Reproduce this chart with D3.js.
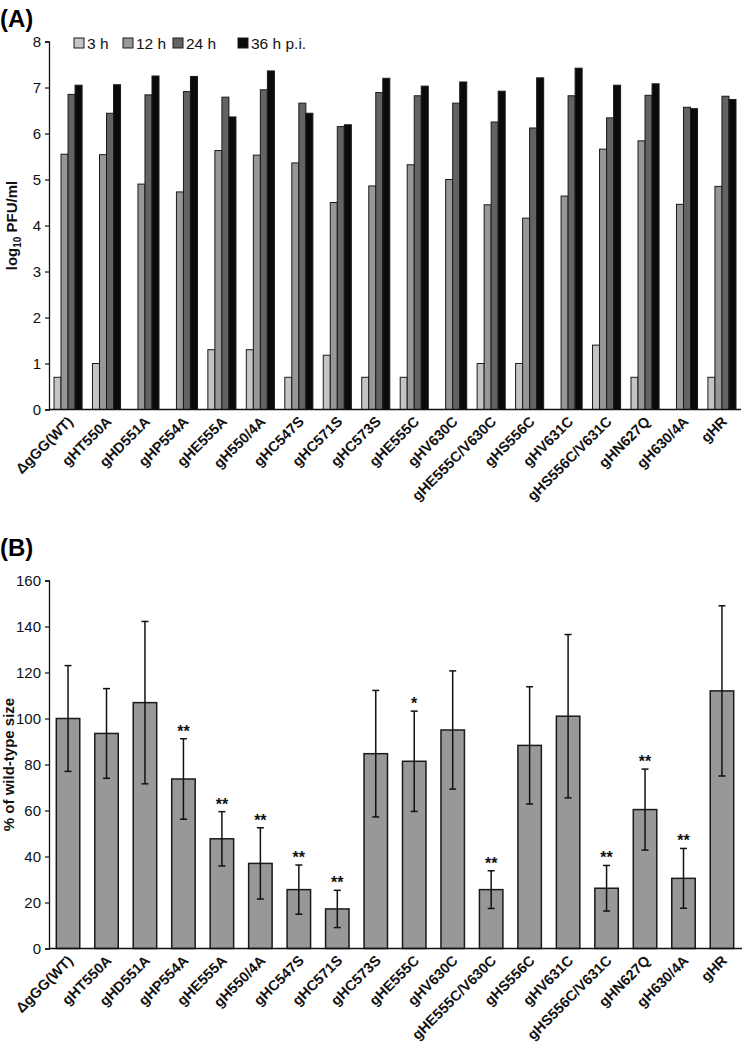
<!DOCTYPE html>
<html>
<head>
<meta charset="utf-8">
<script src="https://cdn.jsdelivr.net/npm/d3@7"></script>
<style>
  html, body { margin: 0; padding: 0; background: #fff; }
  svg { display: block; font-family: "Liberation Sans", Arial, sans-serif; }
</style>
</head>
<body>
<svg id="chart" width="742" height="1045"></svg>
<script>
// ---------- DATA ----------
const categories = ["ΔgGG(WT)","gHT550A","gHD551A","gHP554A","gHE555A","gH550/4A","gHC547S","gHC571S","gHC573S","gHE555C","gHV630C","gHE555C/V630C","gHS556C","gHV631C","gHS556C/V631C","gHN627Q","gH630/4A","gHR"];
const seriesNames = ["3 h","12 h","24 h","36 h p.i."];
const pfu3h  = [0.7,1.0,null,null,1.3,1.3,0.7,1.18,0.7,0.7,null,1.0,1.0,null,1.4,0.7,null,0.7];
const pfu12h = [5.55,5.54,4.9,4.73,5.63,5.53,5.36,4.5,4.86,5.32,5.0,4.45,4.16,4.64,5.66,5.84,4.46,4.85];
const pfu24h = [6.85,6.44,6.84,6.91,6.79,6.95,6.66,6.15,6.89,6.82,6.66,6.25,6.12,6.82,6.34,6.83,6.57,6.81];
const pfu36h = [7.05,7.06,7.25,7.24,6.36,7.36,6.44,6.19,7.2,7.03,7.12,6.92,7.21,7.42,7.05,7.08,6.54,6.74];
const plaqueSize = [100,93.5,106.9,73.7,47.7,37,25.6,17.2,84.7,81.4,95,25.6,88.3,101,26.2,60.4,30.5,112];
const plaqueErr  = [23,19.5,35.3,17.5,11.8,15.5,10.7,8.1,27.5,21.8,25.7,8.2,25.5,35.5,9.9,17.6,13,37];
const significance = ["","","","**","**","**","**","**","","*","","**","","","**","**","**",""];
const ticksA = [0,1,2,3,4,5,6,7,8];
const ticksB = [0,20,40,60,80,100,120,140,160];

const seriesColors = ["#c4c4c4","#979797","#636363","#0a0a0a"];
const FONT = "Liberation Sans, Arial, sans-serif";

const svg = d3.select("#chart");

// ---------- PANEL A ----------
const seriesData = [pfu3h, pfu12h, pfu24h, pfu36h];
const xA = d3.scaleBand().domain(categories).range([49, 741]).paddingInner(0.27).paddingOuter(0.13);
const xSub = d3.scaleBand().domain(seriesNames).range([0, xA.bandwidth()]);
const yA = d3.scaleLinear().domain([0, 8]).range([409.5, 41.5]);

svg.append("text").attr("x", 0).attr("y", 27).attr("font-size", 24).attr("font-weight", "bold").text("(A)");

const gA = svg.append("g");
categories.forEach((c, i) => {
  seriesNames.forEach((s, j) => {
    const v = seriesData[j][i];
    if (v == null) return;
    gA.append("rect")
      .attr("x", xA(c) + xSub(s))
      .attr("y", yA(v))
      .attr("width", xSub.bandwidth())
      .attr("height", yA(0) - yA(v))
      .attr("fill", seriesColors[j])
      .attr("stroke", "#1a1a1a")
      .attr("stroke-width", 1);
  });
});

const axAy = svg.append("g").attr("transform", "translate(49,0)")
  .call(d3.axisLeft(yA).tickValues(ticksA).tickSize(4).tickPadding(4).tickFormat(d3.format("d")));
axAy.select(".domain").attr("stroke", "#111").attr("stroke-width", 1.3);
axAy.selectAll("line").attr("stroke", "#111").attr("stroke-width", 1.2);
axAy.selectAll("text").attr("font-size", 15).attr("fill", "#111").attr("font-family", FONT);

svg.append("line").attr("x1", 49).attr("x2", 741).attr("y1", yA(0)).attr("y2", yA(0))
  .attr("stroke", "#111").attr("stroke-width", 1.3);

// x labels A
categories.forEach(c => {
  const cx = xA(c) + xA.bandwidth() / 2;
  svg.append("text")
    .attr("transform", `translate(${cx + 6},${yA(0) + 13}) rotate(-45)`)
    .attr("text-anchor", "end")
    .attr("font-size", 14.5)
    .attr("font-weight", "bold")
    .attr("fill", "#111")
    .text(c);
});

// y label A
const ylA = svg.append("text")
  .attr("transform", `translate(17,${(yA(0) + yA(8)) / 2}) rotate(-90)`)
  .attr("text-anchor", "middle")
  .attr("font-size", 15)
  .attr("font-weight", "bold")
  .attr("fill", "#111");
ylA.append("tspan").text("log");
ylA.append("tspan").attr("font-size", 10).attr("dy", 4).text("10");
ylA.append("tspan").attr("dy", -4).text(" PFU/ml");

// legend A
const legendX = [74, 123, 173, 238];
seriesNames.forEach((s, j) => {
  svg.append("rect").attr("x", legendX[j]).attr("y", 38).attr("width", 10).attr("height", 10)
    .attr("fill", seriesColors[j]).attr("stroke", "#1a1a1a").attr("stroke-width", 1);
  svg.append("text").attr("x", legendX[j] + 13).attr("y", 48.5).attr("font-size", 15.5)
    .attr("fill", "#111").text(s);
});

// ---------- PANEL B ----------
const yB = d3.scaleLinear().domain([0, 160]).range([948.5, 580.5]);
const barW = xA.step() * 0.61;

svg.append("text").attr("x", 0).attr("y", 556).attr("font-size", 24).attr("font-weight", "bold").text("(B)");

const gB = svg.append("g");
categories.forEach((c, i) => {
  const cx = xA(c) + xA.bandwidth() / 2;
  const v = plaqueSize[i], e = plaqueErr[i];
  gB.append("rect")
    .attr("x", cx - barW / 2)
    .attr("y", yB(v))
    .attr("width", barW)
    .attr("height", yB(0) - yB(v))
    .attr("fill", "#989898")
    .attr("stroke", "#1a1a1a")
    .attr("stroke-width", 1.5);
  gB.append("line").attr("x1", cx).attr("x2", cx).attr("y1", yB(v + e)).attr("y2", yB(v - e))
    .attr("stroke", "#111").attr("stroke-width", 1.5);
  [v + e, v - e].forEach(t => {
    gB.append("line").attr("x1", cx - 3.5).attr("x2", cx + 3.5).attr("y1", yB(t)).attr("y2", yB(t))
      .attr("stroke", "#111").attr("stroke-width", 1.5);
  });
  if (significance[i]) {
    gB.append("text").attr("x", cx).attr("y", yB(v + e) - 2)
      .attr("text-anchor", "middle").attr("font-size", 16).attr("font-weight", "bold")
      .attr("fill", "#111").text(significance[i]);
  }
});

const axBy = svg.append("g").attr("transform", "translate(49,0)")
  .call(d3.axisLeft(yB).tickValues(ticksB).tickSize(4).tickPadding(4).tickFormat(d3.format("d")));
axBy.select(".domain").attr("stroke", "#111").attr("stroke-width", 1.3);
axBy.selectAll("line").attr("stroke", "#111").attr("stroke-width", 1.2);
axBy.selectAll("text").attr("font-size", 15).attr("fill", "#111").attr("font-family", FONT);

svg.append("line").attr("x1", 49).attr("x2", 742).attr("y1", yB(0)).attr("y2", yB(0))
  .attr("stroke", "#111").attr("stroke-width", 1.3);

categories.forEach(c => {
  const cx = xA(c) + xA.bandwidth() / 2;
  svg.append("text")
    .attr("transform", `translate(${cx + 6},${yB(0) + 13}) rotate(-45)`)
    .attr("text-anchor", "end")
    .attr("font-size", 14.5)
    .attr("font-weight", "bold")
    .attr("fill", "#111")
    .text(c);
});

svg.append("text")
  .attr("transform", `translate(14,${(yB(0) + yB(160)) / 2}) rotate(-90)`)
  .attr("text-anchor", "middle")
  .attr("font-size", 15)
  .attr("font-weight", "bold")
  .attr("fill", "#111")
  .text("% of wild-type size");
</script>
</body>
</html>
